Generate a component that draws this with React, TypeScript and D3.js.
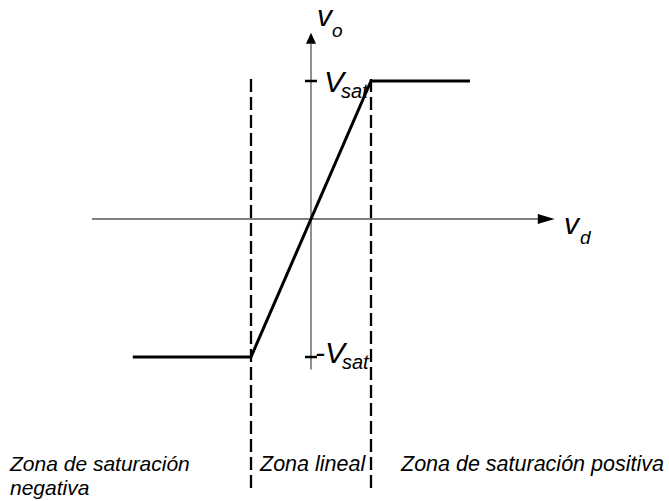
import React from "react";
import * as d3 from "d3";

const curveVd = [-2.97, -1, 1, 2.65];
const curveVo = [-1, -1, 1, 1];
const zoneBounds = [-1, 1];
const tickLevels = [1, -1];
const zoneLabels = ["Zona de saturación", "negativa", "Zona lineal", "Zona de saturación positiva"];

const W = 669, H = 501;
const x = d3.scaleLinear().domain([-1, 1]).range([251, 371]);
const y = d3.scaleLinear().domain([-1, 1]).range([357, 81]);

export default function App() {
  const line = d3.line<number>().x((_, i) => x(curveVd[i])).y((_, i) => y(curveVo[i]));
  const font = "Arial, 'Liberation Sans', sans-serif";
  const ax = x(0), ay = y(0);
  return (
    <svg width={W} height={H} style={{ position: "absolute", left: 0, top: 0, background: "#fff" }}>
      {/* axes */}
      <line x1={x(-3.65)} x2={x(3.85)} y1={ay} y2={ay} stroke="#555" strokeWidth={1.3} />
      <path d={`M${x(4.06)},${ay} L${x(3.78)},${ay - 5} L${x(3.78)},${ay + 5} Z`} fill="#000" />
      <line x1={ax} x2={ax} y1={y(1.27)} y2={y(-1.09)} stroke="#555" strokeWidth={1.3} />
      <path d={`M${ax},${y(1.35)} L${ax - 5},${y(1.27)} L${ax + 5},${y(1.27)} Z`} fill="#000" />
      {/* ticks */}
      {tickLevels.map((t) => (
        <line key={t} x1={ax - 6} x2={ax + 6} y1={y(t)} y2={y(t)} stroke="#000" strokeWidth={2.5} />
      ))}
      {/* dashed zone bounds */}
      {zoneBounds.map((b) => (
        <line key={b} x1={x(b)} x2={x(b)} y1={y(1) - 2} y2={493} stroke="#000" strokeWidth={2.3} strokeDasharray="13,5" />
      ))}
      {/* transfer curve */}
      <path d={line(curveVd) || ""} fill="none" stroke="#000" strokeWidth={3} />
      {/* axis labels */}
      <text x={317} y={26} fontFamily={font} fontStyle="italic" fontSize={30}>v</text>
      <text x={332} y={37} fontFamily={font} fontStyle="italic" fontSize={19}>o</text>
      <text x={564} y={234} fontFamily={font} fontStyle="italic" fontSize={30}>v</text>
      <text x={580} y={244} fontFamily={font} fontStyle="italic" fontSize={19}>d</text>
      {/* Vsat labels */}
      <text x={324} y={92} fontFamily={font} fontStyle="italic" fontSize={30}>V</text>
      <text x={341} y={98} fontFamily={font} fontStyle="italic" fontSize={20}>sat</text>
      <text x={315} y={363} fontFamily={font} fontStyle="italic" fontSize={30}>-V</text>
      <text x={342} y={369} fontFamily={font} fontStyle="italic" fontSize={20}>sat</text>
      {/* zone labels */}
      <text x={10} y={471} fontFamily={font} fontStyle="italic" fontSize={21}>{zoneLabels[0]}</text>
      <text x={10} y={495} fontFamily={font} fontStyle="italic" fontSize={21}>{zoneLabels[1]}</text>
      <text x={260} y={471} fontFamily={font} fontStyle="italic" fontSize={21.5}>{zoneLabels[2]}</text>
      <text x={401} y={471} fontFamily={font} fontStyle="italic" fontSize={21.5}>{zoneLabels[3]}</text>
    </svg>
  );
}
